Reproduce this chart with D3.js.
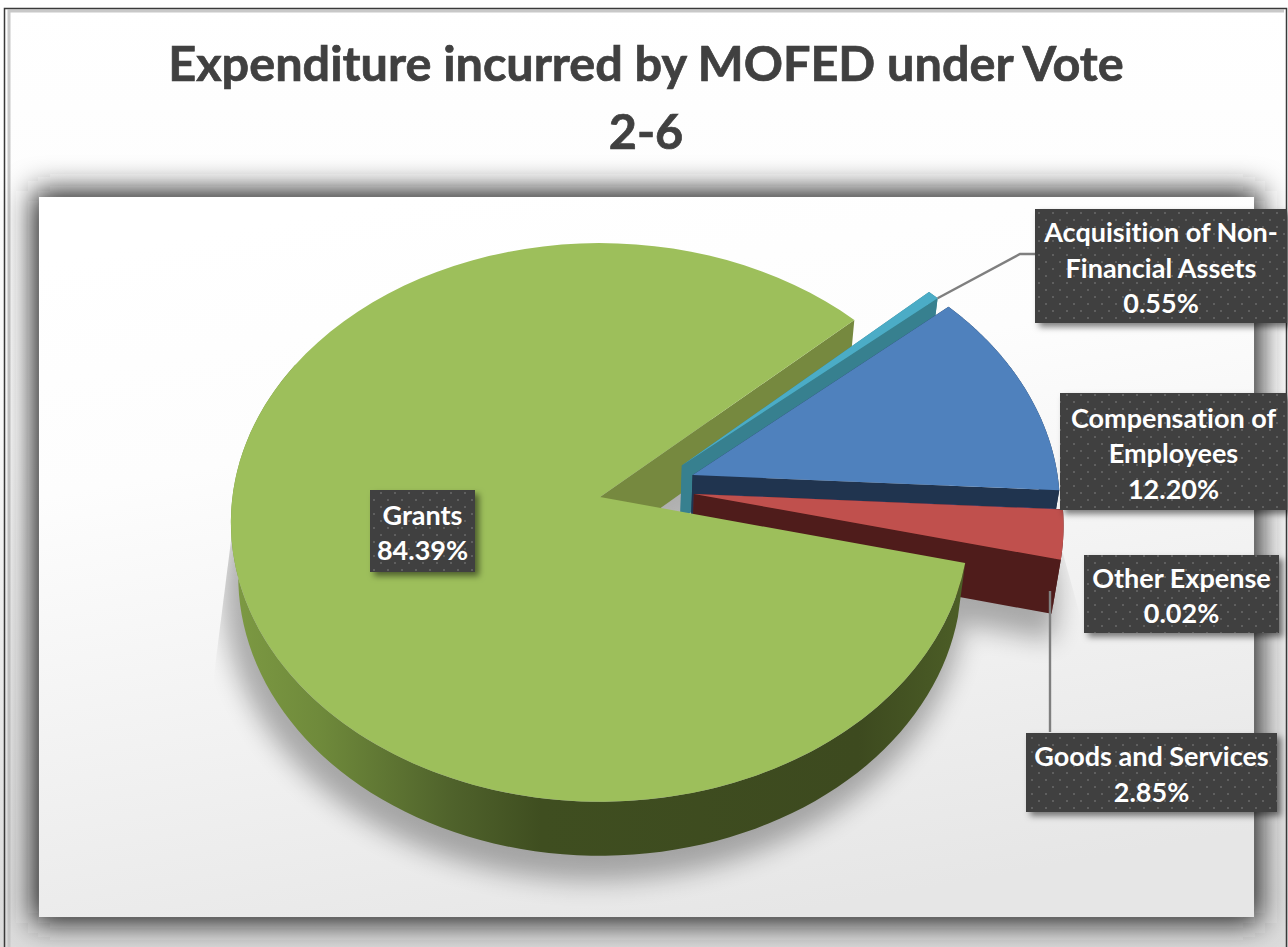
<!DOCTYPE html>
<html>
<head>
<meta charset="utf-8">
<script src="https://cdn.jsdelivr.net/npm/d3@7"></script>
<style>
html,body{margin:0;padding:0;background:#fff;overflow:hidden}
svg{display:block}
text{font-family:Lato,"Open Sans",sans-serif;font-variant-ligatures:none}
</style>
</head>
<body>
<svg id="chart" width="1288" height="947"></svg>
<script>
// Expenditure shares, in percent
const categories = ["Grants","Acquisition of Non-Financial Assets","Compensation of Employees","Other Expense","Goods and Services"];
const shares = [84.39,0.55,12.20,0.02,2.85];
const titleLines = ["Expenditure incurred by MOFED under Vote","2-6"];
const labelLines = [["Grants"],["Acquisition of Non-","Financial Assets"],["Compensation of","Employees"],["Other Expense"],["Goods and Services"]];

// How far each slice is pulled out of the pie (in radii) and in which compass direction
const explosion = [0,0.2527,0.266,0.256,0.256];
const explosionBearing = [0,62.9,72.5,87.5,87.5];

// Slice colours: top face and cut wall
const topColors = ["#9dbf5b","#4bacc6","#4f81bd","#8064a2","#c0504d"];
const wallColors = ["#76893f","#37808f","#20344f","#4d3b63","#4f1c1b"];

const rad = Math.PI/180;
const svg = d3.select("#chart");
const defs = svg.append("defs");

// Perspective of the pie plane
const pieCenter = {x:600,y:497};
const persp = 0.091;
const depth = 54;
const floorShrink = 0.98;
const xScale = d3.scaleLinear().domain([0,1]).range([pieCenter.x,pieCenter.x+367.6]);
const yScale = d3.scaleLinear().domain([0,1]).range([pieCenter.y,pieCenter.y-277]);

function project(u,v,floor){
  const w = 1+persp*v;
  let x = xScale(u/w), y = yScale(v/w);
  if(floor){ x = pieCenter.x+(x-pieCenter.x)*floorShrink; y += depth; }
  return [x,y];
}

const slices = d3.pie().sort(null).value(d=>d)
  .startAngle(103.5*rad).endAngle((103.5+360)*rad)(shares)
  .map((s,i)=>{
    const b = explosionBearing[i]*rad;
    return {...s,i,ou:explosion[i]*Math.sin(b),ov:explosion[i]*Math.cos(b)};
  });

const pt = (s,a,r,floor)=>project(s.ou+r*Math.sin(a),s.ov+r*Math.cos(a),floor);
function arcPts(s,a0,a1,floor){
  return d3.range(0,97).map(k=>pt(s,a0+(a1-a0)*k/96,1,floor));
}
const line = d3.line();
const closed = p=>line(p)+"Z";
const sector = (s,floor)=>closed([pt(s,0,0,floor),...arcPts(s,s.startAngle,s.endAngle,floor)]);
const cutWall = (s,a)=>closed([pt(s,a,0,false),pt(s,a,1,false),pt(s,a,1,true),pt(s,a,0,true)]);
const arcWall = (s,a0,a1)=>closed([...arcPts(s,a0,a1,false),...arcPts(s,a0,a1,true).reverse()]);

// Gradients
function gradient(id,attrs,stops){
  const g = defs.append("linearGradient").attr("id",id);
  Object.entries(attrs).forEach(([k,v])=>g.attr(k,v));
  stops.forEach(([o,c])=>g.append("stop").attr("offset",o).attr("stop-color",c));
}
gradient("frameFill",{x1:0,y1:0,x2:0,y2:1},[[0,"#ffffff"],[0.45,"#fbfbfb"],[1,"#dcdcdc"]]);
gradient("plotFill",{x1:0.3,y1:0,x2:0.6,y2:1},[[0,"#ffffff"],[0.3,"#fdfdfd"],[1,"#e6e6e6"]]);
gradient("greenSide",{gradientUnits:"userSpaceOnUse",x1:231,y1:0,x2:969,y2:0},
  [[0,"#7d9a43"],[0.12,"#6f8a3b"],[0.3,"#4f622b"],[0.42,"#3f4e20"],[0.85,"#3d4a1f"],[1,"#4d5f27"]]);

// Filters
const plotGlow = defs.append("filter").attr("id","plotGlow").attr("filterUnits","userSpaceOnUse")
  .attr("x",-60).attr("y",110).attr("width",1420).attr("height",900);
plotGlow.append("feGaussianBlur").attr("stdDeviation",15);
const pieBlur = defs.append("filter").attr("id","pieBlur").attr("filterUnits","userSpaceOnUse")
  .attr("x",100).attr("y",150).attr("width",1150).attr("height",800);
pieBlur.append("feGaussianBlur").attr("stdDeviation",13);
const boxShadow = defs.append("filter").attr("id","boxShadow").attr("x","-20%").attr("y","-20%").attr("width","140%").attr("height","150%");
boxShadow.append("feDropShadow").attr("dx",4).attr("dy",4).attr("stdDeviation",3)
  .attr("flood-color","#000").attr("flood-opacity",0.5);

// Dotted fill of the data labels
const dots = defs.append("pattern").attr("id","labelDots").attr("patternUnits","userSpaceOnUse")
  .attr("width",14).attr("height",14);
dots.append("rect").attr("width",14).attr("height",14).attr("fill","#3f3f3f");
[[3,3],[10,10]].forEach(([x,y])=>dots.append("circle").attr("cx",x).attr("cy",y).attr("r",1.1).attr("fill","#676767"));

// Chart area and its frame
svg.append("rect").attr("width",1288).attr("height",947).attr("fill","url(#frameFill)");
svg.append("path").attr("d","M9,947V11H1284").attr("fill","none").attr("stroke","#c8c8c8").attr("stroke-width",3);
svg.append("path").attr("d","M4.5,947V8.5H1286.5V947").attr("fill","none").attr("stroke","#3a3a3a").attr("stroke-width",1.5);

// Title
svg.append("g").selectAll("text").data(titleLines).join("text")
  .attr("x",646).attr("y",(d,i)=>81+i*68)
  .attr("text-anchor","middle").attr("font-size",48.6).attr("font-weight",700)
  .attr("fill","#404040").attr("stroke","#404040").attr("stroke-width",0.7)
  .text(d=>d);

// Plot area with a soft dark glow round it
svg.append("rect").attr("x",33).attr("y",191).attr("width",1227).attr("height",732)
  .attr("fill","#222").attr("filter","url(#plotGlow)");
svg.append("rect").attr("x",39).attr("y",197).attr("width",1215).attr("height",720).attr("fill","url(#plotFill)");

// Cast shadow of the pie, cut off along its outer edges
defs.append("clipPath").attr("id","shadowClip").append("polygon")
  .attr("points",[[233,525],[212,690],[212,917],[1150,917],[1086,636],[1062,550],[800,400]].join(" "));
const shadow = svg.append("g").attr("clip-path","url(#shadowClip)").append("g")
  .attr("filter","url(#pieBlur)").attr("opacity",0.3).attr("fill","#000").attr("stroke","#000").attr("stroke-width",18);
slices.forEach(s=>shadow.append("path").attr("d",sector(s,true)).attr("transform","translate(-6,16)"));

// Back wall of the big slice
const grants = slices[0];
svg.append("path").attr("d",cutWall(grants,grants.endAngle)).attr("fill",wallColors[0]);

// Exploded slices from back to front
slices.slice(1).forEach(s=>{
  const g = svg.append("g");
  g.append("path").attr("d",arcWall(s,s.startAngle,s.endAngle)).attr("fill",wallColors[s.i]);
  g.append("path").attr("d",cutWall(s,s.startAngle)).attr("fill",wallColors[s.i]);
  g.append("path").attr("d",cutWall(s,s.endAngle)).attr("fill",wallColors[s.i]);
  g.append("path").attr("d",sector(s,false)).attr("fill",topColors[s.i]);
});

// The big slice comes last: rim first, then top face
svg.append("path").attr("d",arcWall(grants,grants.startAngle,300*rad)).attr("fill","url(#greenSide)");
svg.append("path").attr("d",sector(grants,false)).attr("fill",topColors[0]);

// Leader lines
const leader = d3.line();
const acq = slices[1];
svg.append("path").attr("fill","none").attr("stroke","#7f7f7f").attr("stroke-width",2.4)
  .attr("d",leader([pt(acq,acq.endAngle,1,false),[1020,254],[1036,254]]));
svg.append("path").attr("fill","none").attr("stroke","#7f7f7f").attr("stroke-width",2.4)
  .attr("d",leader([[1050,591],[1050,732]]));

// Data labels, placed in reading order of the slices
const labelBoxes = [[370,490,475,572],[1035,209,1287,323],[1060,393,1287,510],[1084,555,1279,633],[1026,733,1277,812]];
const labelData = categories.map((c,i)=>({lines:[...labelLines[i],shares[i].toFixed(2)+"%"],box:labelBoxes[i]}));
const labels = svg.append("g").selectAll("g").data(labelData).join("g");
labels.append("rect")
  .attr("x",d=>d.box[0]).attr("y",d=>d.box[1])
  .attr("width",d=>d.box[2]-d.box[0]).attr("height",d=>d.box[3]-d.box[1])
  .attr("fill","url(#labelDots)").attr("filter","url(#boxShadow)");
labels.each(function(d){
  const cx=(d.box[0]+d.box[2])/2, cy=(d.box[1]+d.box[3])/2, n=d.lines.length;
  d3.select(this).selectAll("text").data(d.lines).join("text")
    .attr("x",cx).attr("y",(t,i)=>cy+(i-(n-1)/2)*35.5+11.5)
    .attr("text-anchor","middle").attr("font-size",27).attr("font-weight",700).attr("fill","#fff")
    .text(t=>t);
});
</script>
</body>
</html>
